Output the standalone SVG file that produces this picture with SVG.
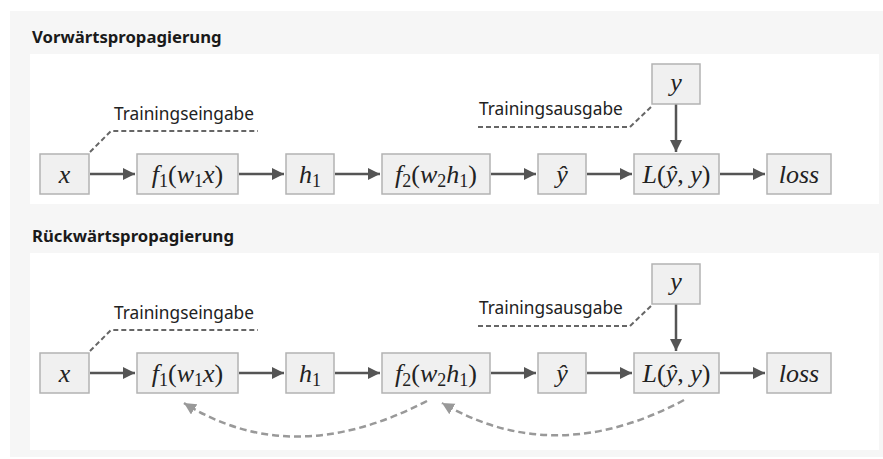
<svg xmlns="http://www.w3.org/2000/svg" width="883" height="459" viewBox="0 0 883 459">
  <defs>
    <marker id="head" markerUnits="userSpaceOnUse" markerWidth="14" markerHeight="14" refX="12" refY="6" orient="auto">
      <path d="M0,0 L12,6 L0,12 z" fill="#555"/>
    </marker>
    <marker id="headBack" markerUnits="userSpaceOnUse" markerWidth="14" markerHeight="14" refX="12" refY="6" orient="auto">
      <path d="M0,0 L12,6 L0,12 z" fill="#999"/>
    </marker>
  </defs>
  <style>
    .title { font-family: "Noto Sans", "Open Sans", sans-serif; font-weight: bold; font-size: 16.7px; fill: #1a1a1a; }
    .label { font-family: "Noto Sans", "Open Sans", sans-serif; font-size: 17.3px; fill: #222; }
    .box { fill: #f0f0f0; stroke: #b3b3b3; stroke-width: 1.5; }
    .math { font-family: "Liberation Serif", "DejaVu Serif", serif; font-size: 26px; fill: #222; text-anchor: middle; }
    .it { font-style: italic; }
    .sub { font-size: 18px; }
    .arrow { stroke: #555; stroke-width: 2.5; fill: none; marker-end: url(#head); }
    .lead { stroke: #666; stroke-width: 2; fill: none; stroke-dasharray: 5 3; }
    .back { stroke: #999; stroke-width: 2.5; fill: none; stroke-dasharray: 7 4; marker-end: url(#headBack); }
  </style>

  <!-- backdrop and panels -->
  <rect x="10" y="11" width="873" height="446" fill="#f6f6f6"/>
  <rect x="30" y="54" width="849" height="150" fill="#ffffff"/>
  <rect x="30" y="253" width="849" height="197" fill="#ffffff"/>

  <text class="title" x="32" y="43">Vorwärtspropagierung</text>
  <text class="title" x="32" y="242">Rückwärtspropagierung</text>

  <!-- forward pass -->
  <g id="forward">
    <g id="fw-connectors">
      <line class="arrow" x1="90" y1="174" x2="135" y2="174"/>
      <line class="arrow" x1="239" y1="174" x2="284" y2="174"/>
      <line class="arrow" x1="335" y1="174" x2="380" y2="174"/>
      <line class="arrow" x1="491" y1="174" x2="536" y2="174"/>
      <line class="arrow" x1="587" y1="174" x2="632" y2="174"/>
      <line class="arrow" x1="720" y1="174" x2="765" y2="174"/>
      <line class="arrow" x1="676" y1="104" x2="676" y2="152"/>
      <path class="lead" d="M90,152 L111,131 L258,131"/>
      <path class="lead" d="M478,127 L630,127 L652,106"/>
    </g>
    <text class="label" x="114" y="120">Trainingseingabe</text>
    <text class="label" x="479" y="115">Trainingsausgabe</text>

    <g id="fw-x"><rect class="box" x="40" y="154" width="49" height="40"/>
      <text class="math" x="64.5" y="183"><tspan class="it">x</tspan></text></g>
    <g id="fw-f1"><rect class="box" x="137" y="154" width="101" height="40"/>
      <text class="math" x="187.5" y="183"><tspan class="it">f</tspan><tspan class="sub" dy="4">1</tspan><tspan dy="-4">(</tspan><tspan class="it">w</tspan><tspan class="sub" dy="4">1</tspan><tspan class="it" dy="-4">x</tspan>)</text></g>
    <g id="fw-h1"><rect class="box" x="286" y="154" width="48" height="40"/>
      <text class="math" x="310" y="183"><tspan class="it">h</tspan><tspan class="sub" dy="4">1</tspan></text></g>
    <g id="fw-f2"><rect class="box" x="382" y="154" width="108" height="40"/>
      <text class="math" x="436" y="183"><tspan class="it">f</tspan><tspan class="sub" dy="4">2</tspan><tspan dy="-4">(</tspan><tspan class="it">w</tspan><tspan class="sub" dy="4">2</tspan><tspan class="it" dy="-4">h</tspan><tspan class="sub" dy="4">1</tspan><tspan dy="-4">)</tspan></text></g>
    <g id="fw-yhat"><rect class="box" x="538" y="154" width="48" height="40"/>
      <text class="math" x="562" y="183"><tspan class="it">ŷ</tspan></text></g>
    <g id="fw-loss-fn"><rect class="box" x="634" y="154" width="85" height="40"/>
      <text class="math" x="676.5" y="183"><tspan class="it">L</tspan>(<tspan class="it">ŷ</tspan>, <tspan class="it">y</tspan>)</text></g>
    <g id="fw-loss"><rect class="box" x="767" y="154" width="64" height="40"/>
      <text class="math" x="799" y="183"><tspan class="it">loss</tspan></text></g>
    <g id="fw-y"><rect class="box" x="652" y="64" width="48" height="40"/>
      <text class="math" x="676" y="91"><tspan class="it">y</tspan></text></g>
  </g>

  <!-- backward pass -->
  <g id="backward">
    <g id="bw-connectors">
      <line class="arrow" x1="90" y1="373" x2="135" y2="373"/>
      <line class="arrow" x1="239" y1="373" x2="284" y2="373"/>
      <line class="arrow" x1="335" y1="373" x2="380" y2="373"/>
      <line class="arrow" x1="491" y1="373" x2="536" y2="373"/>
      <line class="arrow" x1="587" y1="373" x2="632" y2="373"/>
      <line class="arrow" x1="720" y1="373" x2="765" y2="373"/>
      <line class="arrow" x1="676" y1="303" x2="676" y2="351"/>
      <path class="lead" d="M90,351 L111,330 L258,330"/>
      <path class="lead" d="M478,326 L630,326 L652,305"/>
      <path class="back" d="M427,401 Q292,471 184,403"/>
      <path class="back" d="M684,400 Q555,469 442,403"/>
    </g>
    <text class="label" x="114" y="319">Trainingseingabe</text>
    <text class="label" x="479" y="314">Trainingsausgabe</text>

    <g id="bw-x"><rect class="box" x="40" y="353" width="49" height="40"/>
      <text class="math" x="64.5" y="382"><tspan class="it">x</tspan></text></g>
    <g id="bw-f1"><rect class="box" x="137" y="353" width="101" height="40"/>
      <text class="math" x="187.5" y="382"><tspan class="it">f</tspan><tspan class="sub" dy="4">1</tspan><tspan dy="-4">(</tspan><tspan class="it">w</tspan><tspan class="sub" dy="4">1</tspan><tspan class="it" dy="-4">x</tspan>)</text></g>
    <g id="bw-h1"><rect class="box" x="286" y="353" width="48" height="40"/>
      <text class="math" x="310" y="382"><tspan class="it">h</tspan><tspan class="sub" dy="4">1</tspan></text></g>
    <g id="bw-f2"><rect class="box" x="382" y="353" width="108" height="40"/>
      <text class="math" x="436" y="382"><tspan class="it">f</tspan><tspan class="sub" dy="4">2</tspan><tspan dy="-4">(</tspan><tspan class="it">w</tspan><tspan class="sub" dy="4">2</tspan><tspan class="it" dy="-4">h</tspan><tspan class="sub" dy="4">1</tspan><tspan dy="-4">)</tspan></text></g>
    <g id="bw-yhat"><rect class="box" x="538" y="353" width="48" height="40"/>
      <text class="math" x="562" y="382"><tspan class="it">ŷ</tspan></text></g>
    <g id="bw-loss-fn"><rect class="box" x="634" y="353" width="85" height="40"/>
      <text class="math" x="676.5" y="382"><tspan class="it">L</tspan>(<tspan class="it">ŷ</tspan>, <tspan class="it">y</tspan>)</text></g>
    <g id="bw-loss"><rect class="box" x="767" y="353" width="64" height="40"/>
      <text class="math" x="799" y="382"><tspan class="it">loss</tspan></text></g>
    <g id="bw-y"><rect class="box" x="652" y="264" width="48" height="40"/>
      <text class="math" x="676" y="290"><tspan class="it">y</tspan></text></g>
  </g>
</svg>
